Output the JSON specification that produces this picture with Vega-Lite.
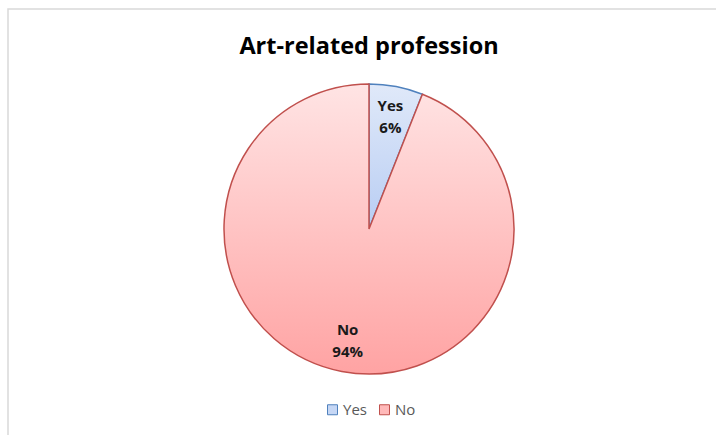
{
  "$schema": "https://vega.github.io/schema/vega-lite/v6.json",
  "autosize": {"type": "none"},
  "width": 740,
  "height": 460,
  "padding": {"left": 8, "top": 9, "right": 0, "bottom": 0},
  "background": "white",
  "view": {"stroke": "#D9D9D9", "strokeWidth": 1.5},
  "config": {
    "font": "Open Sans"
  },
  "title": {
    "text": "Art-related profession",
    "font": "Open Sans",
    "fontSize": 23.5,
    "fontWeight": "bold",
    "color": "#000000",
    "anchor": "middle",
    "frame": "group",
    "baseline": "alphabetic",
    "offset": -68,
    "dx": -9
  },
  "data": {
    "values": [
      {"answer": "Yes", "share": 0.06},
      {"answer": "No", "share": 0.94}
    ]
  },
  "layer": [
    {
      "mark": {"type": "arc", "outerRadius": 145, "xOffset": -9, "yOffset": -10},
      "encoding": {
        "theta": {"field": "share", "type": "quantitative", "stack": true},
        "order": {"field": "answer", "sort": "descending"},
        "color": {
          "field": "answer",
          "type": "nominal",
          "scale": {"domain": ["Yes", "No"], "range": ["#C6D7F5", "#FFB9B9"]},
          "legend": {
            "title": null,
            "orient": "none",
            "direction": "horizontal",
            "legendX": 317,
            "legendY": 393,
            "symbolType": "square",
            "symbolSize": 100,
            "symbolStrokeWidth": 1,
            "labelFont": "Open Sans",
            "labelFontSize": 15,
            "labelColor": "#595959",
            "labelOffset": 3,
            "columnPadding": 10,
            "encode": {
              "symbols": {
                "update": {
                  "stroke": {"signal": "datum.value === 'Yes' ? '#4F81BD' : '#C0504D'"},
                  "strokeWidth": {"value": 1},
                  "opacity": {"value": 1}
                }
              }
            }
          }
        }
      }
    },
    {
      "mark": {"type": "arc", "outerRadius": 145, "strokeWidth": 1.5, "xOffset": -9, "yOffset": -10},
      "encoding": {
        "theta": {"field": "share", "type": "quantitative", "stack": true},
        "order": {"field": "answer", "sort": "descending"},
        "fill": {
          "condition": {
            "test": "datum.answer === 'Yes'",
            "value": {
              "gradient": "linear", "x1": 0, "y1": 0, "x2": 0, "y2": 1,
              "stops": [{"offset": 0, "color": "#E0E9F9"}, {"offset": 1, "color": "#B8CDF3"}]
            }
          },
          "value": {
            "gradient": "linear", "x1": 0, "y1": 0, "x2": 0, "y2": 1,
            "stops": [{"offset": 0, "color": "#FFE4E4"}, {"offset": 1, "color": "#FFA3A3"}]
          }
        },
        "stroke": {
          "condition": {"test": "datum.answer === 'Yes'", "value": "#4F81BD"},
          "value": "#C0504D"
        }
      }
    },
    {
      "mark": {"type": "text", "radius": 114, "dy": -11, "xOffset": -9, "yOffset": -10, "font": "Open Sans", "fontSize": 15, "fontWeight": "bold", "color": "#1A1A1A"},
      "encoding": {
        "theta": {"field": "share", "type": "quantitative", "stack": true},
        "order": {"field": "answer", "sort": "descending"},
        "text": {"field": "answer", "type": "nominal"}
      }
    },
    {
      "mark": {"type": "text", "radius": 114, "dy": 11, "xOffset": -9, "yOffset": -10, "font": "Open Sans", "fontSize": 15, "fontWeight": "bold", "color": "#1A1A1A"},
      "encoding": {
        "theta": {"field": "share", "type": "quantitative", "stack": true},
        "order": {"field": "answer", "sort": "descending"},
        "text": {"field": "share", "type": "quantitative", "format": ".0%"}
      }
    }
  ]
}
